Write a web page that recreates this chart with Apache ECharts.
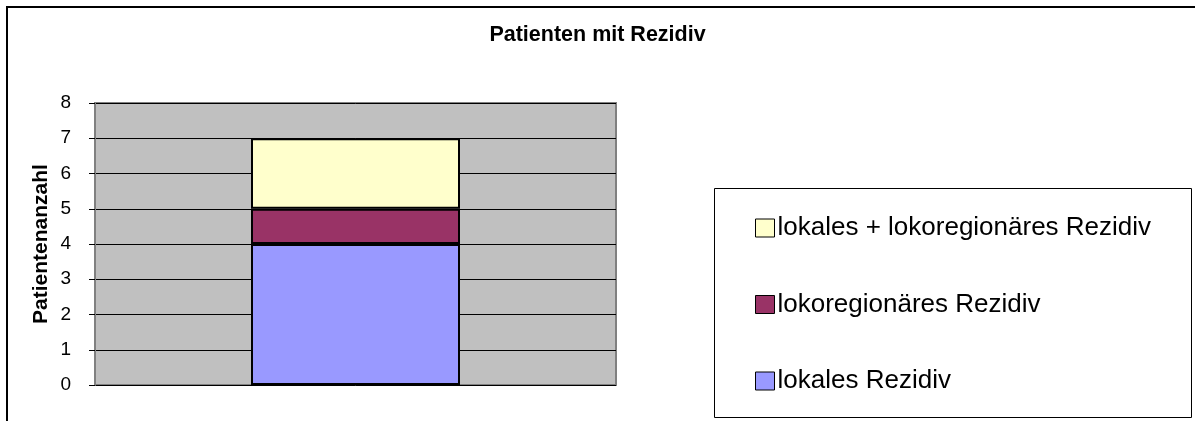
<!DOCTYPE html>
<html>
<head>
<meta charset="utf-8">
<script src="https://cdn.jsdelivr.net/npm/echarts@6/dist/echarts.min.js"></script>
<style>
  html, body { margin: 0; padding: 0; background: #fff; }
  #chart { width: 1195px; height: 421px; }
</style>
</head>
<body>
<div id="chart"></div>
<script>
// Daten
const categories = [""];
const lokales = [4];
const lokoregionaer = [1];
const beides = [2];
const yTicks = [0, 8, 1]; // min, max, interval

const font = "'Liberation Sans', Arial, sans-serif";

const chart = echarts.init(document.getElementById("chart"));

// gemeinsamer Stil für die Balken
const barBase = {
  type: "bar",
  stack: "rezidiv",
  barWidth: 209,
  animation: false
};

chart.setOption({
  animation: false,
  title: {
    text: "Patienten mit Rezidiv",
    left: "center",
    top: 24,
    padding: 0,
    textStyle: { fontFamily: font, fontSize: 21.5, fontWeight: "bold", color: "#000" }
  },
  graphic: [
    {
      // äußerer Rahmen
      type: "rect",
      shape: { x: 7, y: 7, width: 1220, height: 500 },
      style: { fill: null, stroke: "#000", lineWidth: 2 },
      silent: true
    },
    {
      // Legendenrahmen
      type: "rect",
      shape: { x: 714.5, y: 188.5, width: 477, height: 229 },
      style: { fill: "#fff", stroke: "#000", lineWidth: 1 },
      silent: true,
      z: -1
    }
  ],
  legend: {
    orient: "vertical",
    left: 755,
    top: 215,
    padding: 0,
    itemWidth: 19,
    itemHeight: 18,
    itemGap: 50.5,
    icon: "rect",
    data: ["lokales + lokoregionäres Rezidiv", "lokoregionäres Rezidiv", "lokales Rezidiv"],
    textStyle: { fontFamily: font, fontSize: 26, lineHeight: 26, color: "#000", padding: [0, 0, 0, -2] },
    itemStyle: { borderColor: "#000", borderWidth: 1 }
  },
  grid: {
    left: 95,
    top: 103,
    width: 521,
    height: 282,
    show: true,
    backgroundColor: "#C0C0C0",
    borderColor: "#808080",
    borderWidth: 2
  },
  xAxis: {
    type: "category",
    data: categories,
    axisLine: { show: false },
    axisTick: { show: false },
    axisLabel: { show: false }
  },
  yAxis: {
    type: "value",
    min: yTicks[0],
    max: yTicks[1],
    interval: yTicks[2],
    name: "Patientenanzahl",
    nameLocation: "middle",
    nameGap: 43,
    nameTextStyle: { fontFamily: font, fontSize: 21, fontWeight: "bold", color: "#000" },
    axisLine: { show: true, lineStyle: { color: "#808080", width: 2 } },
    axisTick: { show: true, inside: false, length: 6, lineStyle: { color: "#000" } },
    axisLabel: { fontFamily: font, fontSize: 19, color: "#000", margin: 24 },
    splitLine: { show: true, lineStyle: { color: "#000", width: 1 } }
  },
  series: [
    Object.assign({}, barBase, {
      name: "lokales Rezidiv",
      data: lokales,
      itemStyle: { color: "#9999FF", borderColor: "#000", borderWidth: 2 }
    }),
    Object.assign({}, barBase, {
      name: "lokoregionäres Rezidiv",
      data: lokoregionaer,
      itemStyle: { color: "#993366", borderColor: "#000", borderWidth: 2 }
    }),
    Object.assign({}, barBase, {
      name: "lokales + lokoregionäres Rezidiv",
      data: beides,
      itemStyle: { color: "#FFFFCC", borderColor: "#000", borderWidth: 2 }
    })
  ]
});
</script>
</body>
</html>
